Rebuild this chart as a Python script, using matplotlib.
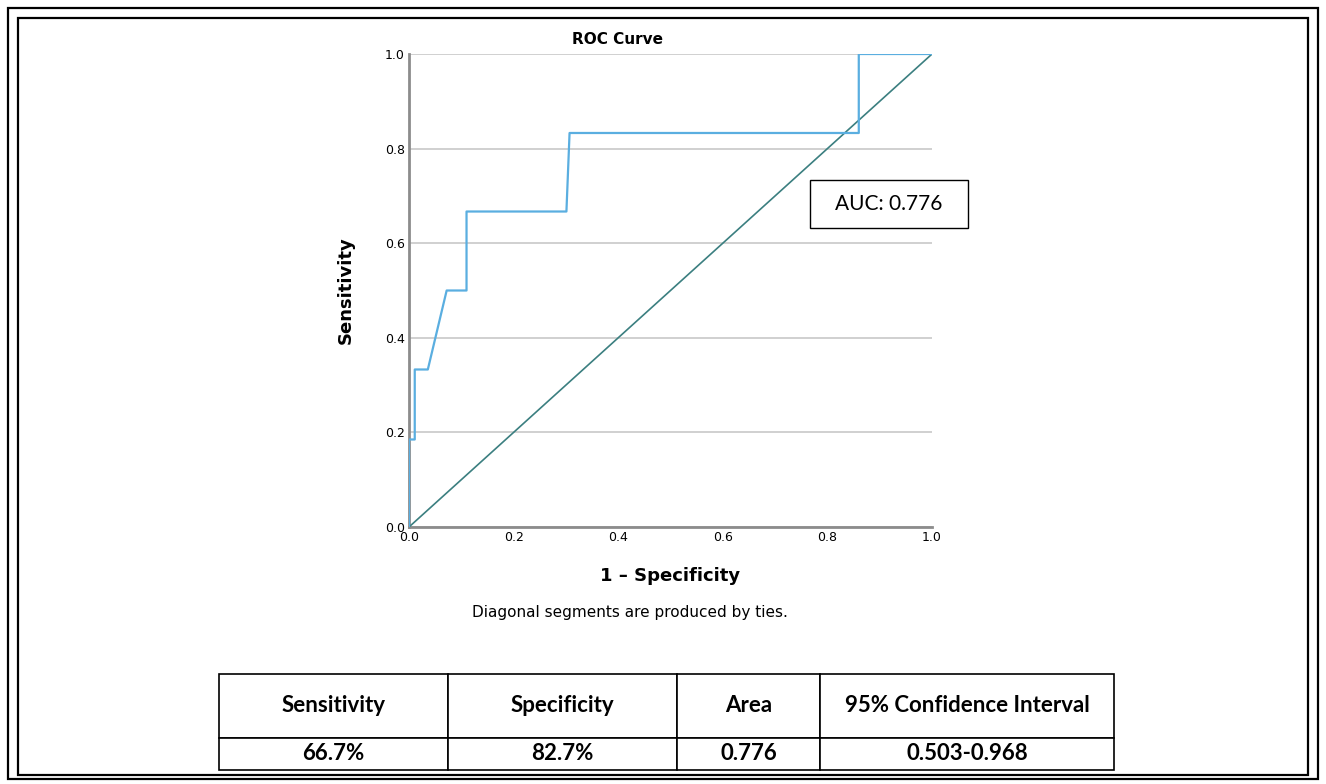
import matplotlib
matplotlib.use("Agg")
import matplotlib.pyplot as plt
from matplotlib.patches import Rectangle

# ROC curve points
fpr = [0, 0, 0.011, 0.011, 0.036, 0.072, 0.110, 0.110, 0.301, 0.307, 0.860, 0.860, 1.0]
tpr = [0, 0.185, 0.185, 0.333, 0.333, 0.5, 0.5, 0.667, 0.667, 0.833, 0.833, 1.0, 1.0]
ticks = [0.0, 0.2, 0.4, 0.6, 0.8, 1.0]
auc_text = "AUC: 0.776"

col_labels = ["Sensitivity", "Specificity", "Area", "95% Confidence Interval"]
row_values = ["66.7%", "82.7%", "0.776", "0.503-0.968"]
col_px = [229, 229, 143, 294]

W, H = 1326, 784


def main():
    fig = plt.figure(figsize=(W / 100, H / 100), dpi=100)

    # double frame round the whole picture
    fig.patches.append(Rectangle((8 / W, 1 - 779 / H), (W - 16) / W, (779 - 8) / H,
                                 transform=fig.transFigure, fill=False, ec="black", lw=1.6))
    fig.patches.append(Rectangle((18 / W, 1 - 775 / H), (W - 36) / W, (775 - 18) / H,
                                 transform=fig.transFigure, fill=False, ec="black", lw=1.6))

    ax = fig.add_axes([409 / W, 1 - 527 / H, (932 - 409) / W, (527 - 54) / H])
    ax.plot([0, 1], [0, 1], color="#3b7f80", lw=1.2, zorder=3)
    ax.plot(fpr, tpr, color="#5aaee0", lw=1.6, zorder=4)
    ax.set_xlim(0, 1)
    ax.set_ylim(0, 1)
    ax.set_xticks(ticks)
    ax.set_yticks(ticks)
    ax.set_xticklabels([f"{t:.1f}" for t in ticks])
    ax.set_yticklabels([f"{t:.1f}" for t in ticks])
    ax.tick_params(length=0, labelsize=9, pad=3)
    ax.yaxis.grid(True, color="#c8c8c8", lw=1.2)
    ax.set_axisbelow(True)
    for s in ["top", "right"]:
        ax.spines[s].set_visible(False)
    for s in ["left", "bottom"]:
        ax.spines[s].set_color("#8c8c8c")
        ax.spines[s].set_linewidth(2)
    ax.set_ylabel("Sensitivity", fontsize=13, fontweight="bold", labelpad=22)

    fig.text(617 / W, 1 - 40 / H, "ROC Curve", ha="center", va="center",
             fontsize=11, fontweight="bold")
    fig.text(670 / W, 1 - 576 / H, "1 – Specificity", ha="center", va="center",
             fontsize=13, fontweight="bold")
    fig.text(630 / W, 1 - 612 / H, "Diagonal segments are produced by ties.",
             ha="center", va="center", fontsize=11)

    # AUC box
    box = Rectangle((0.767, 0.632), 0.302, 0.102, transform=ax.transData,
                    fc="white", ec="black", lw=1, clip_on=False, zorder=5)
    ax.add_patch(box)
    ax.text(0.918, 0.683, auc_text, fontsize=15, family="Lato",
            ha="center", va="center", zorder=6, clip_on=False)

    # table below the chart
    tax = fig.add_axes([219 / W, 1 - 770 / H, (1114 - 219) / W, (770 - 674) / H])
    tax.axis("off")
    widths = [c / sum(col_px) for c in col_px]
    tbl = tax.table(cellText=[col_labels, row_values], colWidths=widths,
                    cellLoc="center", bbox=[0, 0, 1, 1])
    tbl.auto_set_font_size(False)
    for (r, c), cell in tbl.get_celld().items():
        cell.set_height(2 if r == 0 else 1)
        cell.set_linewidth(1.2)
        cell.get_text().set_fontweight("bold")
        cell.get_text().set_fontfamily("Lato")
        cell.get_text().set_fontsize(16)

    fig.savefig("out.png", dpi=100)


main()
